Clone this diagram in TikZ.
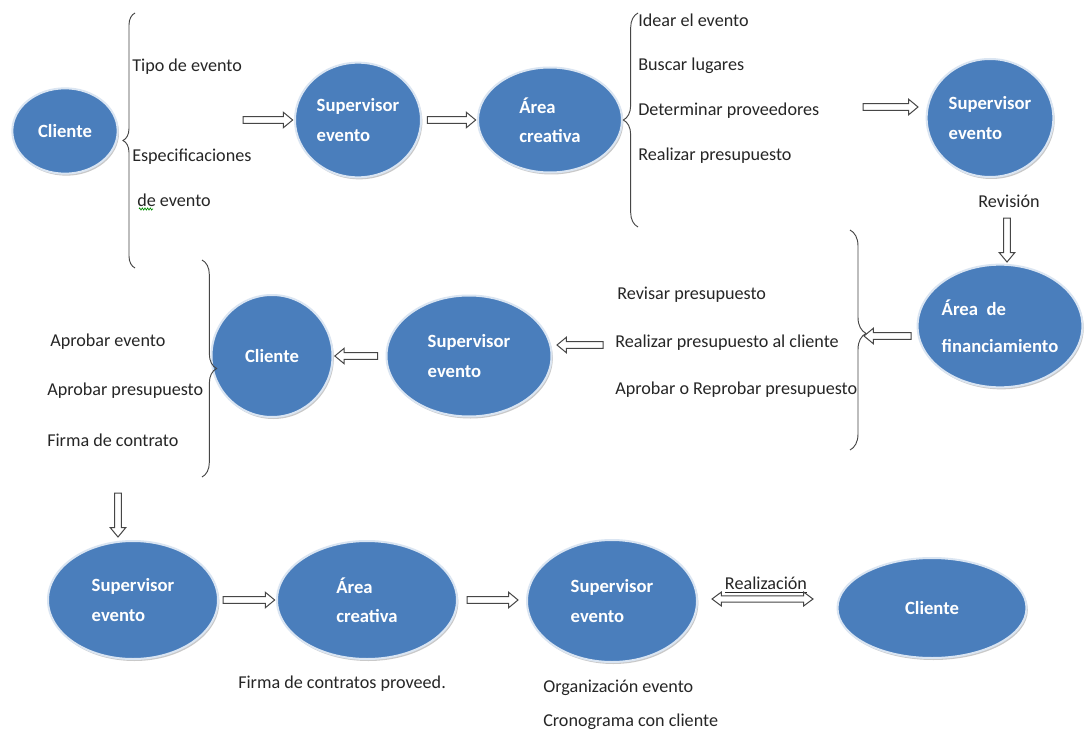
\documentclass[tikz,border=0pt]{standalone}
\usepackage{fontspec}
\setmainfont{Carlito}
\usetikzlibrary{calc,shapes.geometric,decorations.pathreplacing,decorations.pathmorphing,shadows}
\definecolor{nodeblue}{RGB}{74,126,188}
\definecolor{rimblue}{RGB}{218,229,242}
\definecolor{txt}{RGB}{38,38,38}
\definecolor{linegray}{RGB}{70,70,70}
\tikzset{
 ell/.style={ellipse, fill=nodeblue, draw=rimblue, line width=1.5pt, text=white,
   font=\bfseries\fontsize{14}{22}\selectfont, align=left, inner sep=0pt,
   drop shadow={shadow xshift=1pt, shadow yshift=-1.5pt, opacity=0.35, fill=black!60}},
 lbl/.style={anchor=west, text=txt, font=\fontsize{13.6}{15}\selectfont, inner sep=0pt},
 brc/.style={decorate, draw=linegray, line width=0.7pt},
 barrow/.style={draw=linegray, fill=white, line width=0.75pt, line join=miter,
   to path={let \p1=(\tikztostart), \p2=(\tikztotarget),
     \n1={atan2(\y2-\y1,\x2-\x1)}, \n2={veclen(\x2-\x1,\y2-\y1)-7} in
     ($(\p1)+(\n1+90:2.6pt)$) -- ($(\p1)+(\n1:\n2)+(\n1+90:2.6pt)$)
     -- ($(\p1)+(\n1:\n2)+(\n1+90:5.8pt)$) -- (\p2)
     -- ($(\p1)+(\n1:\n2)+(\n1-90:5.8pt)$) -- ($(\p1)+(\n1:\n2)+(\n1-90:2.6pt)$)
     -- ($(\p1)+(\n1-90:2.6pt)$) -- cycle}},
 dbarrow/.style={draw=linegray, fill=white, line width=0.75pt, line join=miter,
   to path={let \p1=(\tikztostart), \p2=(\tikztotarget),
     \n1={atan2(\y2-\y1,\x2-\x1)}, \n2={veclen(\x2-\x1,\y2-\y1)-7} in
     (\p1) -- ($(\p1)+(\n1:7pt)+(\n1+90:5.2pt)$) -- ($(\p1)+(\n1:7pt)+(\n1+90:2.4pt)$)
     -- ($(\p1)+(\n1:\n2)+(\n1+90:2.4pt)$) -- ($(\p1)+(\n1:\n2)+(\n1+90:5.2pt)$)
     -- (\p2) -- ($(\p1)+(\n1:\n2)+(\n1-90:5.2pt)$) -- ($(\p1)+(\n1:\n2)+(\n1-90:2.4pt)$)
     -- ($(\p1)+(\n1:7pt)+(\n1-90:2.4pt)$) -- ($(\p1)+(\n1:7pt)+(\n1-90:5.2pt)$) -- cycle}}
}
\begin{document}
\begin{tikzpicture}[x=0.75pt,y=-0.75pt]
\fill[white] (0,0) rectangle (1088,738);
\path[use as bounding box] (0,0) rectangle (1088,738);

% nodes
\node[ell, minimum width=79pt, minimum height=64pt] (cl1) at (65,131) {Cliente};
\node[ell, minimum width=94.5pt, minimum height=86pt] (sup1) at (358,120) {Supervisor\\evento};
\node[ell, minimum width=108pt, minimum height=78.75pt] (cre1) at (550,120) {Área\\creativa};
\node[ell, minimum width=95pt, minimum height=88.5pt] (sup2) at (990,118) {Supervisor\\evento};
\node[ell, minimum width=121pt, minimum height=92pt] (fin) at (1000,326) {Área\ \ de\\[6pt]financiamiento};
\node[ell, minimum width=123.75pt, minimum height=90.75pt] (sup3) at (469,356) {Supervisor\\evento};
\node[ell, minimum width=90.75pt, minimum height=91.5pt] (cl2) at (272,356) {Cliente};
\node[ell, minimum width=127.5pt, minimum height=88.5pt] (sup4) at (133,600) {Supervisor\\evento};
\node[ell, minimum width=135pt, minimum height=88.5pt] (cre2) at (367,600) {Área\\creativa};
\node[ell, minimum width=127.5pt, minimum height=91.5pt] (sup5) at (612,601) {Supervisor\\evento};
\node[ell, minimum width=141.75pt, minimum height=75pt] (cl3) at (932,608) {Cliente};

% labels
\node[lbl] (t1) at (132,67) {Tipo de evento};
\node[lbl] (t2) at (132,157) {Especificaciones};
\node[lbl] (t3) at (137,200) {de evento};
\node[lbl] (t4) at (638,20) {Idear el evento};
\node[lbl] (t5) at (638,66) {Buscar lugares};
\node[lbl] (t6) at (638,111) {Determinar proveedores};
\node[lbl] (t7) at (638,156) {Realizar presupuesto};
\node[lbl, anchor=center] (t8) at (1009,201) {Revisión};
\node[lbl] (t9) at (617,295) {Revisar presupuesto};
\node[lbl] (t10) at (615,343) {Realizar presupuesto al cliente};
\node[lbl] (t11) at (615,390) {Aprobar o Reprobar presupuesto};
\node[lbl] (t12) at (50,342) {Aprobar evento};
\node[lbl] (t13) at (47,391) {Aprobar presupuesto};
\node[lbl] (t14) at (47,440) {Firma de contrato};
\node[lbl] (t15) at (238,684) {Firma de contratos proveed.};
\node[lbl] (t16) at (543,688) {Organización evento};
\node[lbl] (t17) at (543,722) {Cronograma con cliente};
\node[lbl, anchor=center] (t18) at (766,585) {\underline{Realización}};

% spell-check squiggle
\draw[green!55!black, line width=0.5pt, decorate, decoration={zigzag, amplitude=0.8pt, segment length=2pt}] (139,209) -- (153,209);

% braces
\draw[brc, decoration={brace, amplitude=9pt}] (135,268) -- (135,13);
\draw[brc, decoration={brace, amplitude=11pt}] (638,227) -- (638,13);
\draw[brc, decoration={brace, amplitude=12pt, aspect=0.47}] (850,230) -- (850,450);
\draw[brc, decoration={brace, amplitude=11pt}] (202,260) -- (202,477);

% arrow end points
\coordinate (a1s) at (243,120);
\coordinate (a3s) at (863,107);
\coordinate (a3e) at (918,107);
\coordinate (a4s) at (1007,218);
\coordinate (a4e) at (1007,262);
\coordinate (a5s) at (911,336);
\coordinate (a5e) at (864,336);
\coordinate (a6s) at (603,345);
\coordinate (a6e) at (557,345);
\coordinate (a8s) at (118,493);
\coordinate (a8e) at (118,537);
\coordinate (a10s) at (467,600);
\coordinate (a10e) at (518,600);
\coordinate (a11s) at (712,599);
\coordinate (a11e) at (813,599);

% connectors
\draw[barrow] (a1s) to ([xshift=-1pt]sup1.west);
\draw[barrow] ([xshift=4pt]sup1.east) to ([xshift=-1pt]cre1.west);
\draw[barrow] (a3s) to (a3e);
\draw[barrow] (a4s) to (a4e);
\draw[barrow] (a5s) to (a5e);
\draw[barrow] (a6s) to (a6e);
\draw[barrow] ([xshift=-6pt]sup3.west) to ([xshift=1pt]cl2.east);
\draw[barrow] (a8s) to (a8e);
\draw[barrow] ([xshift=3pt]sup4.east) to ([xshift=-1pt]cre2.west);
\draw[barrow] (a10s) to (a10e);
\draw[dbarrow] (a11s) to (a11e);
\end{tikzpicture}
\end{document}
